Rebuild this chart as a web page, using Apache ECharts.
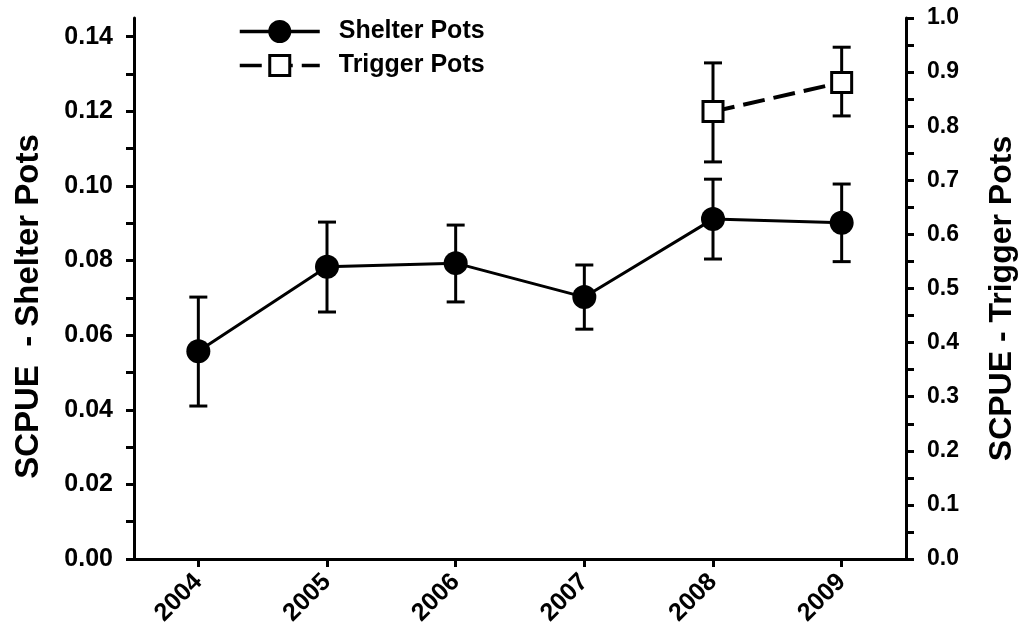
<!DOCTYPE html>
<html>
<head>
<meta charset="utf-8">
<script src="https://cdn.jsdelivr.net/npm/echarts@6/dist/echarts.min.js"></script>
<style>
html,body{margin:0;padding:0;background:#fff;}
#chart{width:1019px;height:631px;}
</style>
</head>
<body>
<div id="chart"></div>
<script>
// ---- data ----
var years = ['2004', '2005', '2006', '2007', '2008', '2009'];
var shelterMean = [0.0557, 0.0783, 0.0793, 0.0702, 0.0911, 0.0901];
var shelterLow  = [0.0410, 0.0662, 0.0689, 0.0616, 0.0804, 0.0797];
var shelterHigh = [0.0702, 0.0903, 0.0895, 0.0788, 0.1018, 0.1005];
var triggerMean = [null, null, null, null, 0.827, 0.881];
var triggerLow  = [null, null, null, null, 0.734, 0.819];
var triggerHigh = [null, null, null, null, 0.917, 0.946];
var leftLabelValues  = [0, 0.02, 0.04, 0.06, 0.08, 0.10, 0.12, 0.14];
var leftTickValues   = [0, 0.01, 0.02, 0.03, 0.04, 0.05, 0.06, 0.07, 0.08, 0.09, 0.10, 0.11, 0.12, 0.13, 0.14];
var rightLabelValues = [0, 0.1, 0.2, 0.3, 0.4, 0.5, 0.6, 0.7, 0.8, 0.9, 1.0];
var rightTickValues  = [0, 0.05, 0.1, 0.15, 0.2, 0.25, 0.3, 0.35, 0.4, 0.45, 0.5, 0.55, 0.6, 0.65, 0.7, 0.75, 0.8, 0.85, 0.9, 0.95, 1.0];

var FONT = "'Liberation Sans', Arial, Helvetica, sans-serif";

function errData(lo, hi) {
  var out = [];
  for (var i = 0; i < lo.length; i++) {
    if (lo[i] != null) out.push([i, lo[i], hi[i]]);
  }
  return out;
}

function renderErr(params, api) {
  var x = api.value(0);
  var pLo = api.coord([x, api.value(1)]);
  var pHi = api.coord([x, api.value(2)]);
  var cap = 9;
  var st = {stroke: '#000', lineWidth: 3};
  return {
    type: 'group',
    children: [
      {type: 'line', shape: {x1: pLo[0], y1: pLo[1], x2: pHi[0], y2: pHi[1]}, style: st},
      {type: 'line', shape: {x1: pLo[0] - cap, y1: pLo[1], x2: pLo[0] + cap, y2: pLo[1]}, style: st},
      {type: 'line', shape: {x1: pHi[0] - cap, y1: pHi[1], x2: pHi[0] + cap, y2: pHi[1]}, style: st}
    ]
  };
}

var chart = echarts.init(document.getElementById('chart'), null, {renderer: 'canvas'});
var axisLineStyle = {color: '#000', width: 3};

chart.setOption({
  animation: false,
  backgroundColor: '#fff',
  textStyle: {fontFamily: FONT},
  grid: {left: 134, right: 113, top: 18, bottom: 72, containLabel: false, outerBoundsMode: 'none'},
  legend: {
    orient: 'vertical',
    left: 238,
    top: 19,
    padding: 0,
    itemWidth: 80,
    itemHeight: 25,
    itemGap: 9,
    data: ['Shelter Pots', 'Trigger Pots'],
    lineStyle: {width: 3.5},
    itemStyle: {borderWidth: 3},
    textStyle: {fontFamily: FONT, fontWeight: 'bold', fontSize: 25, color: '#000', padding: [0, 0, 0, 14]}
  },
  xAxis: {
    type: 'category',
    data: years,
    boundaryGap: true,
    axisLine: {show: true, lineStyle: axisLineStyle},
    axisTick: {show: true, alignWithLabel: true, length: 8, lineStyle: {color: '#000', width: 3}},
    axisLabel: {rotate: 45, margin: 19, color: '#000', fontFamily: FONT, fontWeight: 'bold', fontSize: 25},
    splitLine: {show: false}
  },
  yAxis: [
    {
      type: 'value',
      position: 'left',
      min: 0,
      max: 0.145,
      name: 'SCPUE  - Shelter Pots',
      nameLocation: 'middle',
      nameRotate: 90,
      nameGap: 89,
      nameTextStyle: {fontFamily: FONT, fontWeight: 'bold', fontSize: 33, color: '#000', padding: [0, 36, 0, 0]},
      axisLine: {show: true, lineStyle: axisLineStyle},
      axisTick: {show: true, length: 8, customValues: leftTickValues, lineStyle: {color: '#000', width: 3}},
      axisLabel: {customValues: leftLabelValues, margin: 21, color: '#000', fontFamily: FONT, fontWeight: 'bold', fontSize: 25,
        formatter: function (v) { return v.toFixed(2); }},
      splitLine: {show: false}
    },
    {
      type: 'value',
      position: 'right',
      min: 0,
      max: 1.0,
      name: 'SCPUE - Trigger Pots',
      nameLocation: 'middle',
      nameRotate: 90,
      nameGap: 80,
      nameTextStyle: {fontFamily: FONT, fontWeight: 'bold', fontSize: 32, color: '#000', padding: [0, 20, 0, 0]},
      axisLine: {show: true, lineStyle: axisLineStyle},
      axisTick: {show: true, length: 8, customValues: rightTickValues, lineStyle: {color: '#000', width: 3}},
      axisLabel: {customValues: rightLabelValues, margin: 21, color: '#000', fontFamily: FONT, fontWeight: 'bold', fontSize: 23,
        formatter: function (v) { return v.toFixed(1); }},
      splitLine: {show: false}
    }
  ],
  series: [
    {
      name: 'Shelter Pots err',
      type: 'custom',
      yAxisIndex: 0,
      z: 1,
      renderItem: renderErr,
      data: errData(shelterLow, shelterHigh),
      silent: true
    },
    {
      name: 'Trigger Pots err',
      type: 'custom',
      yAxisIndex: 1,
      z: 1,
      renderItem: renderErr,
      data: errData(triggerLow, triggerHigh),
      silent: true
    },
    {
      name: 'Shelter Pots',
      type: 'line',
      yAxisIndex: 0,
      z: 3,
      data: shelterMean,
      symbol: 'circle',
      symbolSize: 24,
      lineStyle: {color: '#000', width: 3},
      itemStyle: {color: '#000', borderColor: '#000', borderWidth: 0}
    },
    {
      name: 'Trigger Pots',
      type: 'line',
      yAxisIndex: 1,
      z: 3,
      data: triggerMean,
      connectNulls: false,
      symbol: 'rect',
      symbolSize: 20,
      lineStyle: {color: '#000', width: 4, type: [22, 9]},
      itemStyle: {color: '#fff', borderColor: '#000', borderWidth: 3}
    }
  ]
});
</script>
</body>
</html>
